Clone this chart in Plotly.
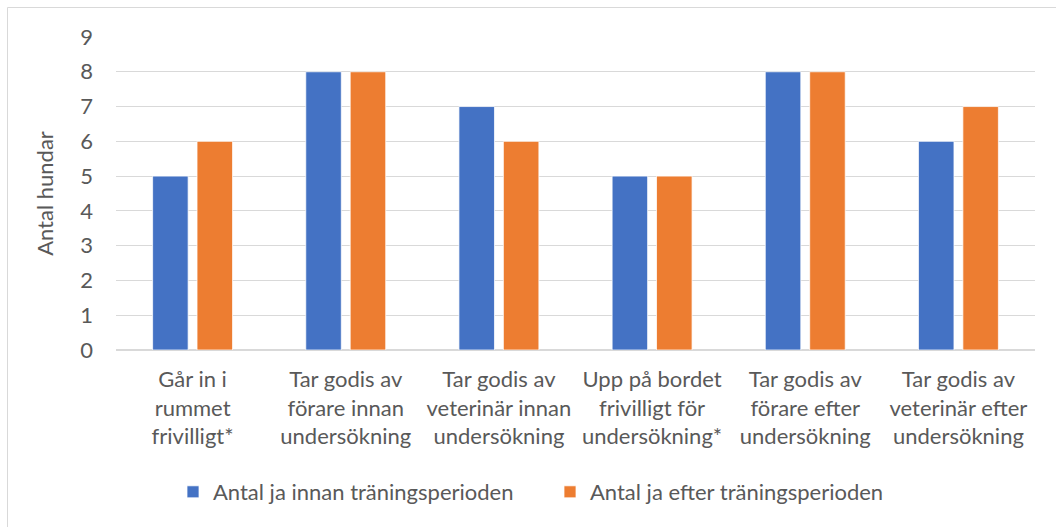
import plotly.graph_objects as go

categories = [
    "Går in i<br>rummet<br>frivilligt*",
    "Tar godis av<br>förare innan<br>undersökning",
    "Tar godis av<br>veterinär innan<br>undersökning",
    "Upp på bordet<br>frivilligt för<br>undersökning*",
    "Tar godis av<br>förare efter<br>undersökning",
    "Tar godis av<br>veterinär efter<br>undersökning",
]
series_before_name = "Antal ja innan träningsperioden"
series_after_name = "Antal ja efter träningsperioden"
before = [5, 8, 7, 5, 8, 6]
after = [6, 8, 6, 5, 8, 7]
y_ticks = list(range(0, 10))

FONT = "Lato"
TXT = "#595959"
FS = 22

fig = go.Figure()
fig.add_trace(go.Bar(x=categories, y=before, name=series_before_name,
                     marker=dict(color="#4472C4", line=dict(color="white", width=0.75))))
fig.add_trace(go.Bar(x=categories, y=after, name=series_after_name,
                     marker=dict(color="#ED7D31", line=dict(color="white", width=0.75))))

W, H = 1056, 527
L, R, T, B = 116, 21, 37, 177
pw, ph = W - L - R, H - T - B

def px_x(p):
    return (p - L) / pw

def px_y(p):
    return (H - B - p) / ph

fig.update_layout(
    width=W, height=H,
    margin=dict(l=L, r=R, t=T, b=B, pad=0),
    paper_bgcolor="white", plot_bgcolor="white",
    barmode="group", bargap=0.42, bargroupgap=0.2,
    font=dict(family=FONT, size=FS, color=TXT),
    showlegend=True,
    legend=dict(orientation="h", x=px_x(550), xanchor="center",
                y=px_y(492), yanchor="middle",
                font=dict(family=FONT, size=FS, color=TXT),
                itemwidth=30, traceorder="normal",
                entrywidth=332, entrywidthmode="pixels"),
    xaxis=dict(showgrid=False, showline=False, zeroline=False,
               ticks="", tickfont=dict(family=FONT, size=FS, color=TXT),
               ticklabelstandoff=14),
    yaxis=dict(range=[0, 9], tickvals=y_ticks, showgrid=True,
               gridcolor="#D9D9D9", gridwidth=1, zeroline=True,
               zerolinecolor="#D9D9D9", zerolinewidth=1.5,
               showline=False, ticks="",
               tickfont=dict(family=FONT, size=FS, color=TXT),
               ticklabelstandoff=22,
               title=dict(text="Antal hundar", standoff=20,
                          font=dict(family=FONT, size=FS, color=TXT))),
    shapes=[dict(type="rect", xref="paper", yref="paper",
                 x0=px_x(7.5), x1=px_x(1075), y0=px_y(540), y1=px_y(7.5),
                 line=dict(color="#D9D9D9", width=1), layer="below")],
)

fig.write_html("out.html", config={"displayModeBar": False},
               post_script="document.body.style.margin='0';document.body.style.overflow='hidden';")
